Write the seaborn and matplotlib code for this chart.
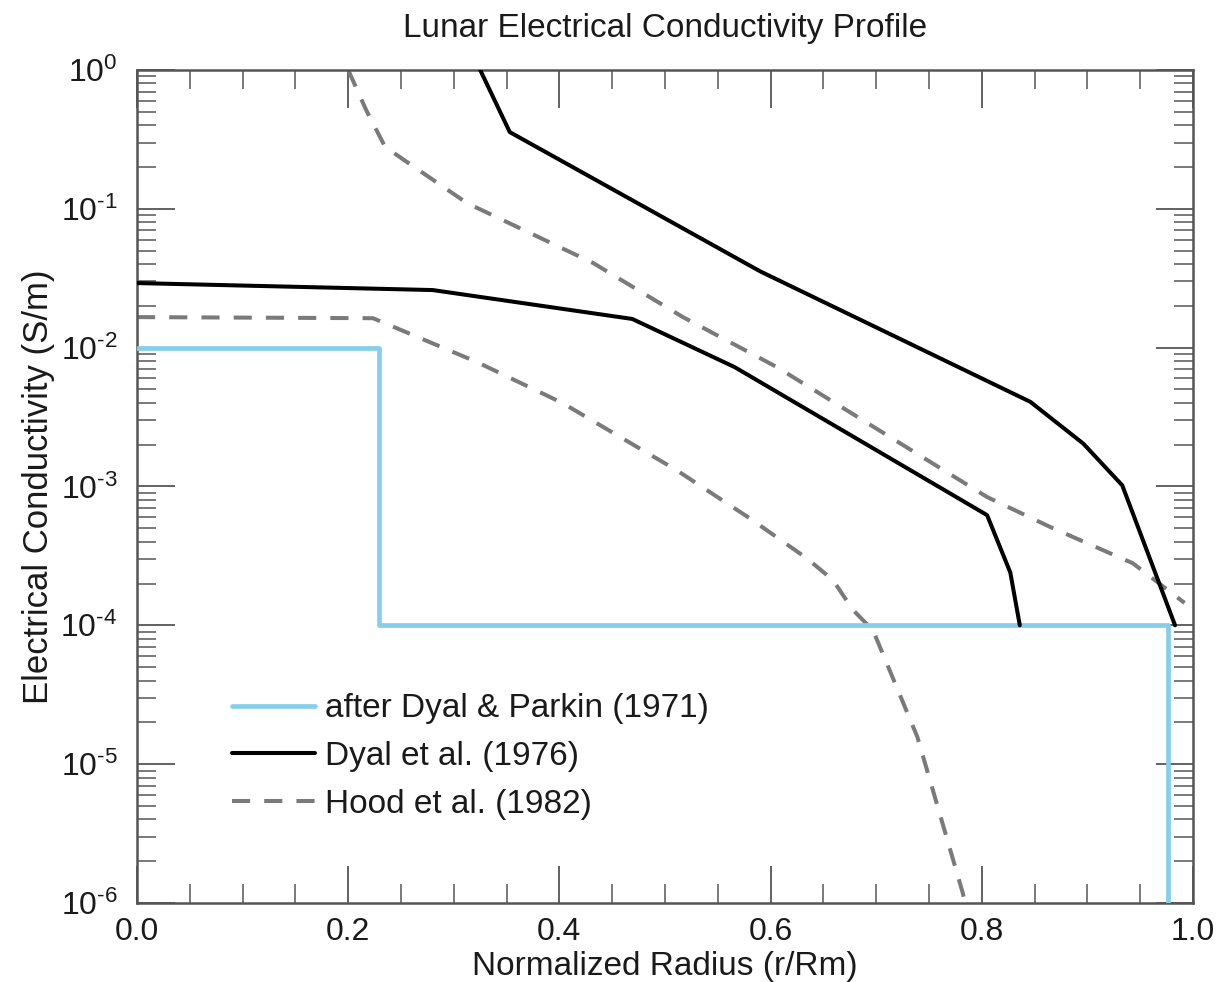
import numpy as np
import pandas as pd
import matplotlib
matplotlib.use("Agg")
import matplotlib.pyplot as plt
import seaborn as sns
from matplotlib.ticker import MultipleLocator, LogLocator, FuncFormatter, NullFormatter

# ---------------- data ----------------
# after Dyal & Parkin (1971): step profile
dp_radius = [0.0, 0.229, 0.229, 0.976, 0.976]
dp_sigma = [1e-2, 1e-2, 1e-4, 1e-4, 1e-6]

# Dyal et al. (1976): two bounding curves
dyal_out_radius = [0.325, 0.353, 0.59, 0.846, 0.896, 0.933, 0.983]
dyal_out_sigma = [1.0, 0.357, 0.0355, 0.00407, 0.00204, 0.00102, 1.0e-4]
dyal_in_radius = [0.0, 0.280, 0.469, 0.566, 0.805, 0.827, 0.836]
dyal_in_sigma = [0.0292, 0.0260, 0.0161, 0.00724, 6.22e-4, 2.40e-4, 1.0e-4]

# Hood et al. (1982): two bounding curves
hood_out_radius = [0.200, 0.217, 0.235, 0.2585, 0.3125, 0.432, 0.517, 0.606,
                   0.805, 0.865, 0.943, 0.992]
hood_out_sigma = [1.0, 0.515, 0.279, 0.210, 0.110, 0.0407, 0.0166, 0.00724,
                  8.4e-4, 5.1e-4, 2.8e-4, 1.45e-4]
hood_in_radius = [0.0, 0.2235, 0.322, 0.403, 0.511, 0.580, 0.634, 0.659,
                  0.678, 0.697, 0.739, 0.782, 0.784]
hood_in_sigma = [0.0166, 0.0163, 0.00787, 0.00399, 0.00131, 5.92e-4, 3.05e-4,
                 2.12e-4, 1.29e-4, 9.2e-5, 1.57e-5, 1.18e-6, 1.0e-6]

labels = ["after Dyal & Parkin (1971)", "Dyal et al. (1976)", "Hood et al. (1982)"]
x_ticks = [0.0, 0.2, 0.4, 0.6, 0.8, 1.0]
y_decades = [1e-6, 1e-5, 1e-4, 1e-3, 1e-2, 1e-1, 1e0]

# ---------------- style ----------------
sns.set_style("ticks")
plt.rcParams["font.family"] = ["Liberation Sans", "DejaVu Sans"]
plt.rcParams["mathtext.fontset"] = "custom"
plt.rcParams["mathtext.rm"] = "Liberation Sans"
plt.rcParams["mathtext.it"] = "Liberation Sans:italic"
plt.rcParams["mathtext.bf"] = "Liberation Sans:bold"
plt.rcParams["text.color"] = "#1a1a1a"
plt.rcParams["axes.labelcolor"] = "#1a1a1a"
plt.rcParams["xtick.labelcolor"] = "#1a1a1a"
plt.rcParams["ytick.labelcolor"] = "#1a1a1a"

FS = 24
TFS = 23
BLUE = "#87CEEB"
GRAY = "#7a7a7a"
FRAME = "#555555"

fig = plt.figure(figsize=(12.21, 9.82), dpi=100)
ax = fig.add_axes([137 / 1221, 1 - 903 / 982, (1193 - 137) / 1221, (903 - 70) / 982])

def frame(r, s, name):
    return pd.DataFrame({"radius": r, "sigma": s, "model": name})

# blue step
sns.lineplot(data=frame(dp_radius, dp_sigma, labels[0]), x="radius", y="sigma",
             sort=False, estimator=None, color=BLUE, lw=3.4, ax=ax,
             label=labels[0], zorder=3)
# Dyal et al.
sns.lineplot(data=frame(dyal_out_radius, dyal_out_sigma, labels[1]), x="radius", y="sigma",
             sort=False, estimator=None, color="black", lw=2.9, ax=ax,
             label=labels[1], zorder=4)
sns.lineplot(data=frame(dyal_in_radius, dyal_in_sigma, labels[1]), x="radius", y="sigma",
             sort=False, estimator=None, color="black", lw=2.9, ax=ax,
             label="_nolegend_", zorder=4)
# Hood et al.
sns.lineplot(data=frame(hood_out_radius, hood_out_sigma, labels[2]), x="radius", y="sigma",
             sort=False, estimator=None, color=GRAY, lw=2.9, ax=ax,
             label=labels[2], zorder=2)
sns.lineplot(data=frame(hood_in_radius, hood_in_sigma, labels[2]), x="radius", y="sigma",
             sort=False, estimator=None, color=GRAY, lw=2.9, ax=ax,
             label="_nolegend_", zorder=2)
for ln in ax.get_lines():
    if matplotlib.colors.to_hex(ln.get_color()) == GRAY:
        ln.set_dashes((4.5, 3.5))

ax.set_yscale("log")
ax.set_xlim(0.0, 1.0)
ax.set_ylim(1e-6, 1e0)

ax.set_xticks(x_ticks)
ax.xaxis.set_minor_locator(MultipleLocator(0.05))
ax.set_xticklabels([f"{v:.1f}" for v in x_ticks])
ax.set_yticks(y_decades)
ax.yaxis.set_minor_locator(LogLocator(base=10, subs=np.arange(2, 10), numticks=20))
ax.yaxis.set_minor_formatter(NullFormatter())


def dec_label(v, p):
    e = int(round(np.log10(v)))
    if e < 0:
        return r"$\mathregular{10^{\text{-}%d}}$" % (-e)
    return r"$\mathregular{10^{%d}}$" % e


ax.yaxis.set_major_formatter(FuncFormatter(dec_label))

for sp in ax.spines.values():
    sp.set_visible(True)
    sp.set_color(FRAME)
    sp.set_linewidth(1.8)

ax.tick_params(which="major", direction="in", length=27, width=1.3, color=FRAME,
               top=True, right=True, labelsize=TFS, pad=10)
ax.tick_params(which="minor", direction="in", length=13.5, width=1.1, color=FRAME,
               top=True, right=True)
ax.tick_params(axis="y", which="major", pad=14)

ax.set_xlabel("Normalized Radius (r/Rm)", fontsize=FS, labelpad=3)
ax.set_ylabel("Electrical Conductivity (S/m)", fontsize=FS + 1, labelpad=4)
ax.set_title("Lunar Electrical Conductivity Profile", fontsize=FS, pad=24)

leg = ax.legend(loc="center left", bbox_to_anchor=(0.09, 0.176), frameon=False,
                fontsize=FS, handlelength=2.5, handletextpad=0.3,
                labelspacing=0.5, borderpad=0, borderaxespad=0)

fig.savefig("out.png", dpi=100, facecolor="white")
